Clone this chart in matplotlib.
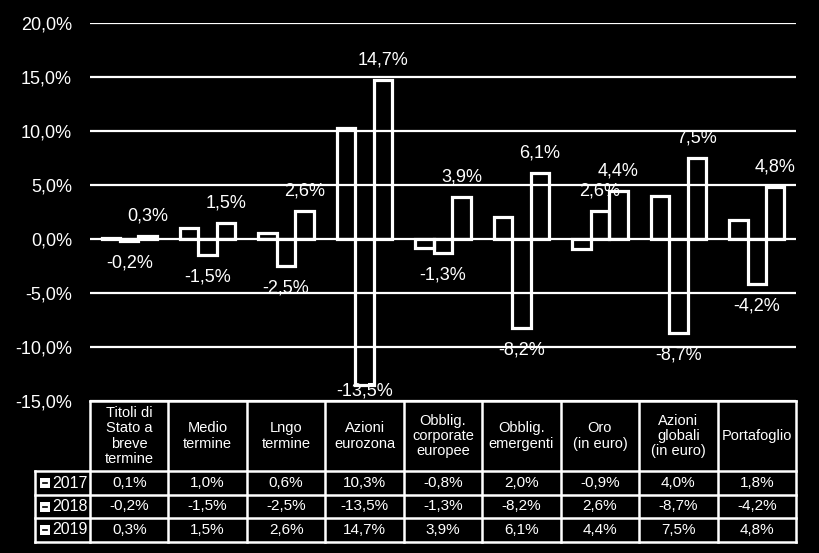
import numpy as np
import matplotlib
matplotlib.use('Agg')
import matplotlib.pyplot as plt
from matplotlib.patches import Rectangle

plt.rcParams['font.family'] = ['Liberation Sans', 'DejaVu Sans']

# data
categories = ['Titoli di\nStato a\nbreve\ntermine', 'Medio\ntermine', 'Lngo\ntermine',
              'Azioni\neurozona', 'Obblig.\ncorporate\neuropee', 'Obblig.\nemergenti',
              'Oro\n(in euro)', 'Azioni\nglobali\n(in euro)', 'Portafoglio']
years = ['2017', '2018', '2019']
v2017 = [0.1, 1.0, 0.6, 10.3, -0.8, 2.0, -0.9, 4.0, 1.8]
v2018 = [-0.2, -1.5, -2.5, -13.5, -1.3, -8.2, 2.6, -8.7, -4.2]
v2019 = [0.3, 1.5, 2.6, 14.7, 3.9, 6.1, 4.4, 7.5, 4.8]
yticks = [-15, -10, -5, 0, 5, 10, 15, 20]
labelled = [False, True, True]  # which series get data labels

series = [v2017, v2018, v2019]

def pct(v):
    return ('%.1f%%' % v).replace('.', ',')

W, H = 819, 553
fig = plt.figure(figsize=(W/100, H/100), dpi=100, facecolor='black')

# plot area in pixels
left, right, top, bottom = 90, 796, 23, 401
ax = fig.add_axes([left/W, 1-bottom/H, (right-left)/W, (bottom-top)/H])
ax.set_facecolor('black')
ax.set_xlim(-0.5, len(categories)-0.5)
ax.set_ylim(-15, 20)
for s in ax.spines.values():
    s.set_visible(False)
ax.set_xticks([])
ax.set_yticks(yticks)
ax.set_yticklabels([pct(t) for t in yticks], color='white', fontsize=13)
ax.tick_params(axis='y', length=0, pad=13)
for t in yticks:
    ax.axhline(t, color='white', lw=1.6, zorder=1)

x = np.arange(len(categories))
bw = 0.235
ppu = (bottom-top)/35.0  # pixels per percent
for i, vals in enumerate(series):
    xs = x + (i-1)*bw
    ax.bar(xs, vals, bw, facecolor='none', edgecolor='white', lw=2.3, zorder=3)
    if not labelled[i]:
        continue
    for xi, v in zip(xs, vals):
        if v >= 0:
            yl = v + 20/ppu
        else:
            yl = max(v - 22/ppu, -15 + 10/ppu)
        ax.text(xi, yl, pct(v), color='white', fontsize=13, ha='center', va='center',
                zorder=5, clip_on=False)

# table below the chart
tleft, ttop, tbottom = 35, 401, 542
tax = fig.add_axes([tleft/W, 1-tbottom/H, (right-tleft)/W, (tbottom-ttop)/H])
tax.set_facecolor('black')
tax.axis('off')
unit = (right-left)/len(categories)
x0 = -0.5 - (left-tleft)/unit
tax.set_xlim(x0, len(categories)-0.5)
rows_y = [401, 471, 495, 518, 542]
tax.set_ylim(tbottom, ttop)

lw = 1.8
# horizontal lines
tax.plot([-0.5, len(categories)-0.5], [rows_y[0]]*2, color='white', lw=lw, clip_on=False)
for yy in rows_y[1:]:
    tax.plot([x0, len(categories)-0.5], [yy]*2, color='white', lw=lw, clip_on=False)
# vertical lines
for k in range(len(categories)+1):
    tax.plot([k-0.5]*2, [rows_y[0], rows_y[-1]], color='white', lw=lw, clip_on=False)
tax.plot([x0]*2, [rows_y[1], rows_y[-1]], color='white', lw=lw, clip_on=False)

# header
for k, c in enumerate(categories):
    tax.text(k, (rows_y[0]+rows_y[1])/2, c, color='white', fontsize=10.5,
             ha='center', va='center', linespacing=1.1)

# rows
for r, (yr, vals) in enumerate(zip(years, series)):
    yc = (rows_y[r+1]+rows_y[r+2])/2
    mx = x0 + 5/unit
    tax.add_patch(Rectangle((mx, yc-5), 10/unit, 10, facecolor='white', edgecolor='none'))
    tax.plot([mx + 3/unit, mx + 7/unit], [yc, yc], color='black', lw=1.2)
    tax.text(mx + 12/unit, yc, yr, color='white', fontsize=11.5, ha='left', va='center')
    for k, v in enumerate(vals):
        tax.text(k, yc, pct(v), color='white', fontsize=11, ha='center', va='center')

fig.savefig('out.png', dpi=100, facecolor='black')
